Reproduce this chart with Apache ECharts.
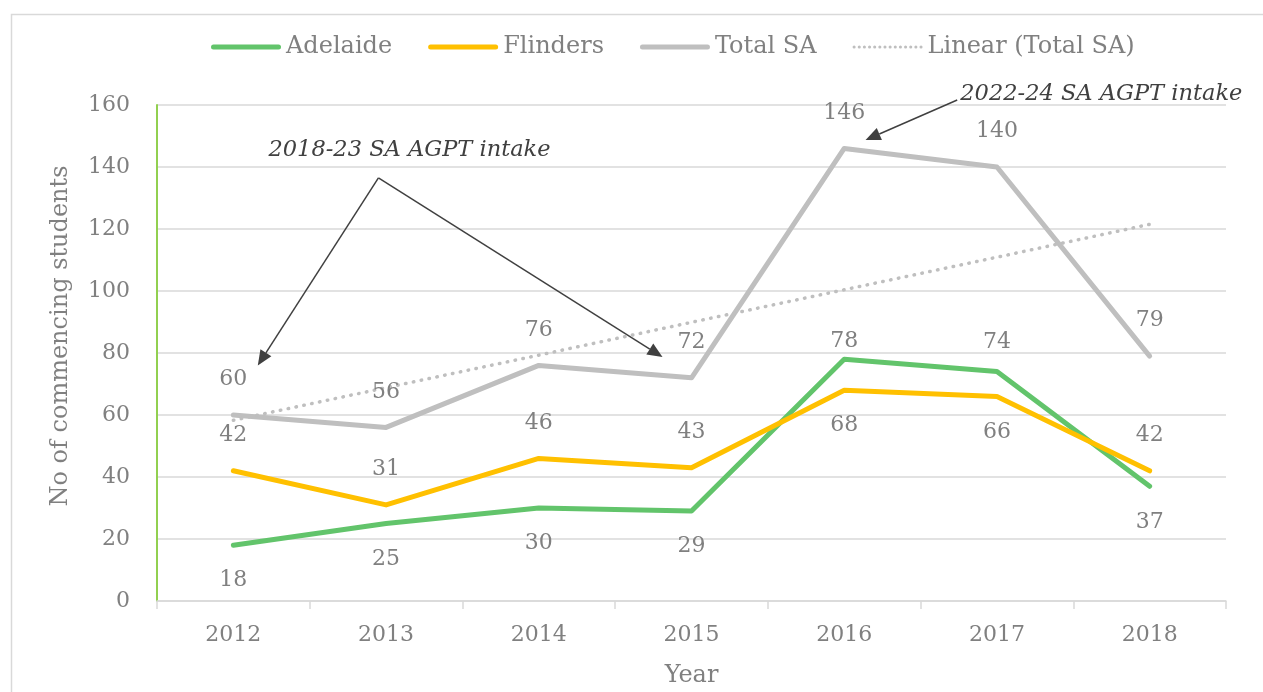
<!DOCTYPE html>
<html>
<head>
<meta charset="utf-8">
<script src="https://cdn.jsdelivr.net/npm/echarts@6/dist/echarts.min.js"></script>
<style>
    html, body { margin: 0; padding: 0; background: #fff; }
    #chart { width: 1263px; height: 692px; }
</style>
</head>
<body>
<div id="chart"></div>
<script>
// data
const years = ['2012', '2013', '2014', '2015', '2016', '2017', '2018'];
const adelaide = [18, 25, 30, 29, 78, 74, 37];
const flinders = [42, 31, 46, 43, 68, 66, 42];
const totalSA = [60, 56, 76, 72, 146, 140, 79];
const trendTotalSA = [58.3, 68.8, 79.3, 89.9, 100.4, 110.9, 121.5];

// where each data label sits
const adelaideLabelPos = ['bottom', 'bottom', 'bottom', 'bottom', 'top', 'top', 'bottom'];
const flindersLabelPos = ['top', 'top', 'top', 'top', 'bottom', 'bottom', 'top'];

const FONT = '"DejaVu Serif", "Liberation Serif", serif';
const GREY = '#808080';
const LABEL_GAP = 24;

const lineIcon = 'path://M2.5,0 H67.5 A2.5,2.5 0 0 1 67.5,5 H2.5 A2.5,2.5 0 0 1 2.5,0 Z';
let dotIcon = 'path://';
for (let cx = 1.5; cx < 70; cx += 5) {
    dotIcon += 'M' + (cx - 1.5) + ',2.5 a1.5,1.5 0 1,0 3,0 a1.5,1.5 0 1,0 -3,0 ';
}

const labelStyle = {
    show: true,
    color: GREY,
    fontFamily: FONT,
    fontSize: 22,
    distance: LABEL_GAP,
};

const withLabels = (values, positions, distances) =>
    values.map((v, i) => ({
        value: v,
        label: {position: positions[i], distance: distances ? distances[i] : LABEL_GAP},
    }));

const lineSeries = (name, color, data) => ({
    name: name,
    type: 'line',
    data: data,
    symbol: 'circle',
    symbolSize: 1,
    itemStyle: {color: color},
    lineStyle: {color: color, width: 5, cap: 'round', join: 'round'},
    label: labelStyle,
    emphasis: {disabled: true},
    animation: false,
});

const chart = echarts.init(document.getElementById('chart'));

const option = {
    backgroundColor: '#fff',
    textStyle: {fontFamily: FONT},
    legend: {
        top: 30,
        left: 206,
        itemWidth: 70,
        itemHeight: 5,
        itemGap: 36,
        textStyle: {color: GREY, fontFamily: FONT, fontSize: 24},
        data: [
            {name: 'Adelaide', icon: lineIcon},
            {name: 'Flinders', icon: lineIcon},
            {name: 'Total SA', icon: lineIcon},
            {name: 'Linear (Total SA)', icon: dotIcon},
        ],
    },
    grid: {left: 157, right: 37, top: 105, bottom: 91, outerBoundsMode: 'none', containLabel: false},
    xAxis: {
        type: 'category',
        data: years,
        boundaryGap: true,
        name: 'Year',
        nameLocation: 'middle',
        nameGap: 63,
        nameTextStyle: {color: GREY, fontFamily: FONT, fontSize: 24},
        axisLine: {lineStyle: {color: '#d9d9d9', width: 1.5}},
        axisTick: {show: true, length: 8, lineStyle: {color: '#d9d9d9', width: 1.5}},
        axisLabel: {color: GREY, fontFamily: FONT, fontSize: 22, margin: 23},
    },
    yAxis: {
        type: 'value',
        min: 0,
        max: 160,
        interval: 20,
        name: 'No of commencing students',
        nameLocation: 'middle',
        nameGap: 84,
        nameRotate: 90,
        nameTextStyle: {color: GREY, fontFamily: FONT, fontSize: 24, padding: [0, 0, 0, 34]},
        axisLine: {show: true, lineStyle: {color: '#92d050', width: 2}},
        axisTick: {show: false},
        axisLabel: {color: GREY, fontFamily: FONT, fontSize: 22, margin: 27},
        splitLine: {lineStyle: {color: '#d9d9d9', width: 1.5}},
    },
    series: [
        lineSeries('Adelaide', '#62c46b', withLabels(adelaide, adelaideLabelPos,
            [LABEL_GAP, LABEL_GAP, LABEL_GAP, LABEL_GAP, 6, 18, LABEL_GAP])),
        lineSeries('Flinders', '#ffc000', withLabels(flinders, flindersLabelPos)),
        Object.assign(lineSeries('Total SA', '#bfbfbf', totalSA), {
            label: Object.assign({}, labelStyle, {position: 'top'}),
        }),
        {
            name: 'Linear (Total SA)',
            type: 'line',
            data: trendTotalSA,
            symbol: 'none',
            silent: true,
            itemStyle: {color: '#bfbfbf'},
            lineStyle: {color: '#bfbfbf', width: 3.5, type: [0.5, 7.5], cap: 'round'},
            animation: false,
            z: 3,
        },
    ],
};

chart.setOption(option);

// annotations, in [category index, value] space
const notes = [
    {text: '2018-23 SA AGPT intake', at: [0.23, 145.5]},
    {text: '2022-24 SA AGPT intake', at: [4.76, 163.5]},
];
const arrows = [
    {from: [0.95, 136.5], to: [0.16, 76]},
    {from: [0.95, 136.5], to: [2.81, 78.7]},
    {from: [4.74, 161.6], to: [4.14, 148.7]},
];

const p0 = chart.convertToPixel({gridIndex: 0}, [0, 0]);
const p1 = chart.convertToPixel({gridIndex: 0}, [1, 0]);
const toPx = ([i, v]) => {
    const py = chart.convertToPixel({gridIndex: 0}, [0, v]);
    return [p0[0] + i * (p1[0] - p0[0]), py[1]];
};

const graphics = [
    {
        type: 'rect',
        left: 9,
        top: 12,
        z: -10,
        silent: true,
        shape: {width: 1400, height: 800},
        style: {fill: 'none', stroke: '#d9d9d9', lineWidth: 1.5},
    },
];

notes.forEach(n => {
    const [x, y] = toPx(n.at);
    graphics.push({
        type: 'text',
        x: x,
        y: y,
        silent: true,
        style: {
            text: n.text,
            fill: '#404040',
            fontFamily: FONT,
            fontStyle: 'italic',
            fontSize: 22.5,
            verticalAlign: 'middle',
        },
    });
});

arrows.forEach(a => {
    const [x1, y1] = toPx(a.from);
    const [x2, y2] = toPx(a.to);
    const len = Math.hypot(x2 - x1, y2 - y1);
    const ux = (x2 - x1) / len;
    const uy = (y2 - y1) / len;
    const headLen = 15;
    const headHalf = 6.5;
    const bx = x2 - ux * headLen;
    const by = y2 - uy * headLen;
    graphics.push({
        type: 'line',
        silent: true,
        shape: {x1: x1, y1: y1, x2: bx, y2: by},
        style: {stroke: '#404040', lineWidth: 1.5},
    });
    graphics.push({
        type: 'polygon',
        silent: true,
        shape: {
            points: [
                [x2, y2],
                [bx - uy * headHalf, by + ux * headHalf],
                [bx + uy * headHalf, by - ux * headHalf],
            ],
        },
        style: {fill: '#404040'},
    });
});

chart.setOption({graphic: graphics});
</script>
</body>
</html>
